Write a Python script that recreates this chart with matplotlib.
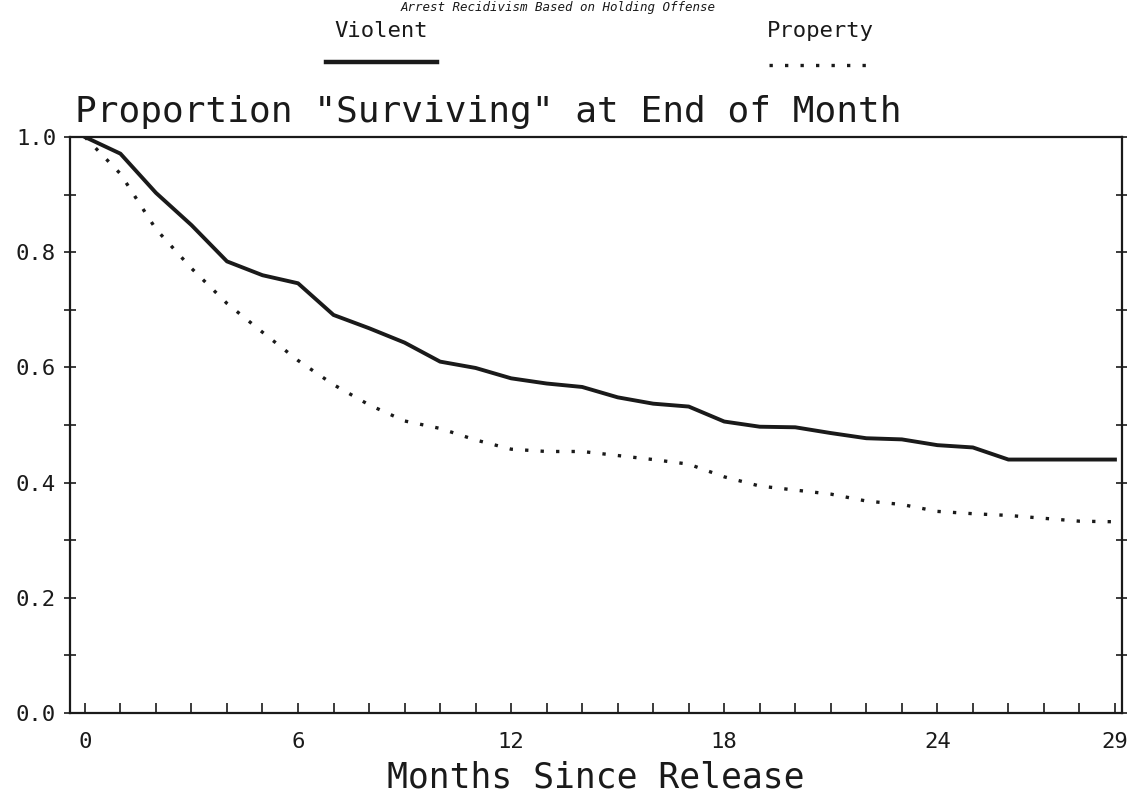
import numpy as np
import matplotlib
matplotlib.use("Agg")
import matplotlib.pyplot as plt

# survival proportions, one value per month
months = list(range(0, 30))
violent = [1.000, 0.971, 0.903, 0.847, 0.784, 0.760, 0.746, 0.691, 0.668, 0.643,
           0.610, 0.599, 0.581, 0.572, 0.566, 0.548, 0.537, 0.532, 0.506, 0.497,
           0.496, 0.486, 0.477, 0.475, 0.465, 0.461, 0.440, 0.440, 0.440, 0.440]
prop = [1.000, 0.936, 0.840, 0.772, 0.711, 0.661, 0.612, 0.570, 0.535, 0.507,
        0.494, 0.474, 0.458, 0.454, 0.454, 0.447, 0.440, 0.432, 0.410, 0.394,
        0.387, 0.380, 0.368, 0.362, 0.350, 0.346, 0.343, 0.338, 0.333, 0.332]

xtick_labels = [0, 6, 12, 18, 24, 29]
ytick_labels = [0.0, 0.2, 0.4, 0.6, 0.8, 1.0]

mono = "DejaVu Sans Mono"
ink = "#1a1a1a"

fig = plt.figure(figsize=(11.27, 7.94), dpi=100)
ax = fig.add_axes([0.0621, 0.102, 0.9335, 0.7255])

ax.plot(months, violent, color=ink, lw=2.8, solid_joinstyle="round")
ax.plot(months, prop, color=ink, lw=2.4, linestyle=(0, (1, 3.65)))

ax.set_xlim(-0.42, 29.2)
ax.set_ylim(0, 1.0)

ax.set_xticks(months, minor=True)
ax.set_xticks(xtick_labels)
ax.set_xticklabels([str(v) for v in xtick_labels], fontfamily=mono, fontsize=16)
ax.set_yticks(np.arange(0, 1.01, 0.1), minor=True)
ax.set_yticks(ytick_labels)
ax.set_yticklabels(["%.1f" % v for v in ytick_labels], fontfamily=mono, fontsize=16)

ax.tick_params(axis="x", which="both", direction="in", length=7, width=1.2,
               colors=ink, pad=14)
ax.tick_params(axis="y", which="both", direction="inout", length=8, width=1.2,
               colors=ink, pad=6, right=True)
ax.tick_params(axis="y", which="both", labelright=False)

for s in ax.spines.values():
    s.set_linewidth(1.6)
    s.set_color(ink)

fig.text(0.529, 0.021, "Months Since Release", fontfamily=mono, fontsize=25,
         color=ink, ha="center", va="center")

fig.text(0.0665, 0.838, 'Proportion "Surviving" at End of Month', fontfamily=mono,
         fontsize=26, color=ink, ha="left", va="bottom")

# header with legend entries drawn as text plus sample strokes
fig.text(0.495, 0.999, "Arrest Recidivism Based on Holding Offense", fontfamily=mono,
         fontsize=9, color=ink, ha="center", va="top", fontstyle="italic")
fig.text(0.338, 0.961, "Violent", fontfamily=mono, fontsize=16, color=ink,
         ha="center", va="center")
fig.text(0.728, 0.961, "Property", fontfamily=mono, fontsize=16, color=ink,
         ha="center", va="center")
fig.add_artist(plt.Line2D([0.289, 0.388], [0.922, 0.922], color=ink, lw=3.2))
fig.add_artist(plt.Line2D([0.682, 0.770], [0.918, 0.918], color=ink, lw=2.4,
                          linestyle=(0, (1, 3.65))))

fig.savefig("out.png", dpi=100, facecolor="white")
